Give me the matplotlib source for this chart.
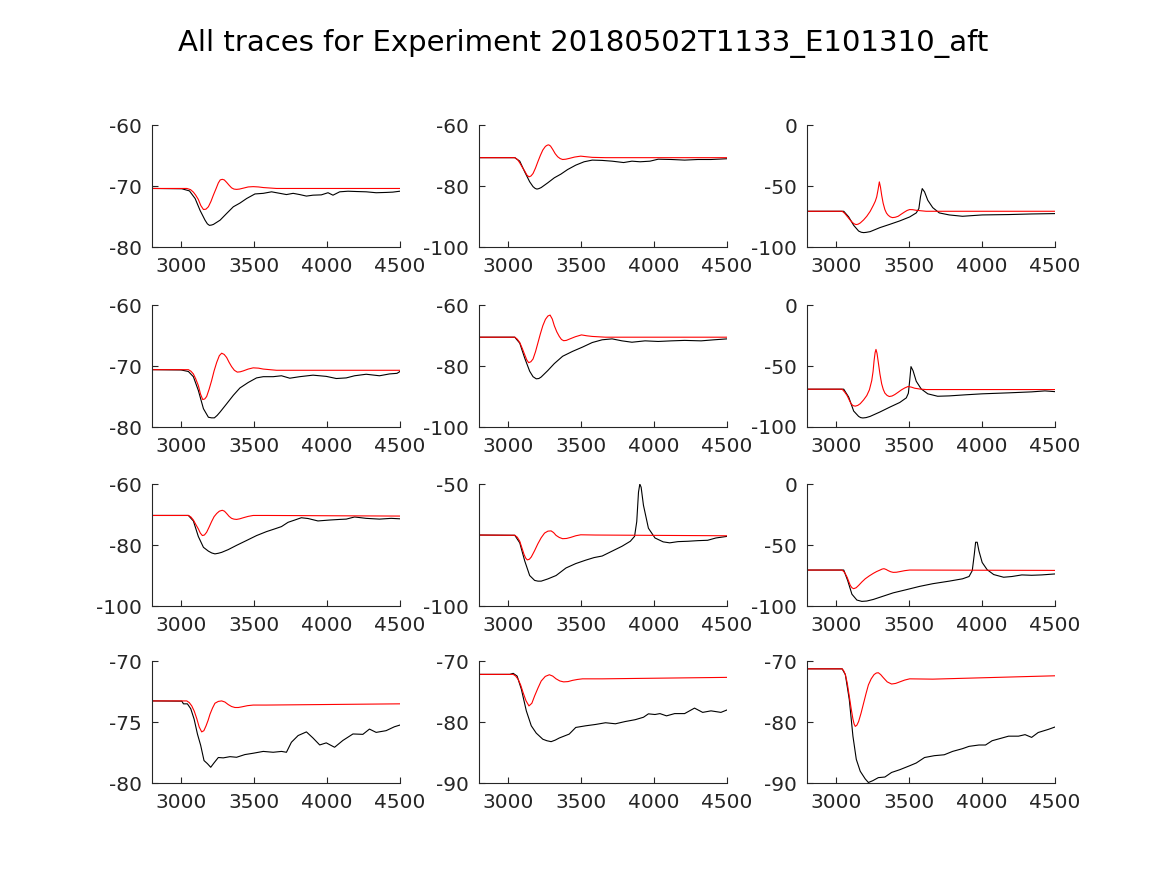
import matplotlib
matplotlib.use("Agg")
import matplotlib.pyplot as plt

# Values; each trace is (time, voltage) points
p1_red_x = [2800, 3040, 3065, 3084, 3100, 3118, 3135, 3153, 3170, 3187, 3205, 3221, 3240, 3255, 3268, 3282, 3296,
            3312, 3330, 3346, 3362, 3380, 3400, 3426, 3460, 3494, 3530, 3563, 3654, 4500]
p1_red_y = [-70.4, -70.4, -70.6, -71.0, -71.5, -72.2, -73.2, -73.85, -73.8, -73.4, -72.5, -71.5, -70.4, -69.5,
            -69.0, -68.9, -69.0, -69.4, -69.9, -70.3, -70.5, -70.55, -70.5, -70.35, -70.15, -70.1, -70.15, -70.25,
            -70.4, -70.4]
p1_blk_x = [2800, 3005, 3057, 3096, 3130, 3164, 3180, 3194, 3208, 3221, 3267, 3312, 3358, 3403, 3449, 3506, 3563,
            3620, 3677, 3722, 3768, 3813, 3859, 3904, 3961, 4007, 4041, 4087, 4144, 4201, 4269, 4337, 4406, 4451,
            4500]
p1_blk_y = [-70.4, -70.45, -70.8, -72.05, -74.0, -75.6, -76.2, -76.45, -76.4, -76.3, -75.6, -74.5, -73.4, -72.8,
            -72.05, -71.3, -71.2, -70.95, -71.2, -71.4, -71.2, -71.4, -71.65, -71.5, -71.45, -71.1, -71.5, -70.95,
            -70.85, -70.9, -70.95, -71.1, -71.05, -71.0, -70.85]

p2_red_x = [2800, 3045, 3065, 3079, 3096, 3113, 3128, 3142, 3156, 3170, 3187, 3203, 3220, 3237, 3255, 3268, 3278,
            3290, 3305, 3322, 3339, 3356, 3373, 3395, 3418, 3455, 3497, 3535, 3576, 3667, 4500]
p2_red_y = [-70.7, -70.7, -71.4, -72.4, -73.8, -75.1, -76.4, -77.0, -76.7, -75.9, -74.1, -72.05, -70.0, -68.2,
            -67.0, -66.6, -66.5, -66.9, -68.0, -69.4, -70.4, -71.0, -71.3, -71.2, -70.95, -70.5, -70.2, -70.4,
            -70.6, -70.7, -70.7]
p2_blk_x = [2800, 3045, 3079, 3113, 3147, 3170, 3185, 3197, 3210, 3226, 3271, 3316, 3361, 3407, 3463, 3520, 3576,
            3644, 3712, 3791, 3848, 3904, 3972, 4028, 4119, 4209, 4300, 4390, 4500]
p2_blk_y = [-70.7, -70.7, -71.85, -75.35, -78.6, -80.2, -80.8, -81.0, -80.85, -80.5, -78.95, -77.3, -76.1, -74.6,
            -73.15, -72.05, -71.5, -71.6, -71.85, -72.3, -71.85, -72.05, -71.85, -71.2, -71.3, -71.5, -71.3, -71.3,
            -71.05]

p3_red_x = [2800, 3041, 3058, 3075, 3092, 3108, 3122, 3136, 3150, 3165, 3188, 3210, 3233, 3255, 3268, 3278, 3288,
            3296, 3304, 3312, 3322, 3334, 3345, 3357, 3371, 3386, 3405, 3425, 3447, 3470, 3487, 3504, 3525, 3549,
            3617, 4500]
p3_red_y = [-70.7, -70.7, -72.3, -74.8, -77.3, -79.45, -80.9, -81.6, -81.3, -80.3, -77.8, -74.8, -70.8, -65.8,
            -62.5, -58.9, -52.5, -46.6, -51.0, -57.5, -64.0, -69.3, -72.2, -74.0, -75.3, -75.9, -75.6, -74.8, -73.0,
            -71.2, -70.0, -69.3, -69.4, -69.9, -70.7, -70.7]
p3_blk_x = [2800, 3052, 3086, 3120, 3154, 3172, 3188, 3205, 3233, 3300, 3368, 3436, 3504, 3549, 3567, 3578, 3590,
            3606, 3628, 3662, 3707, 3775, 3866, 4001, 4182, 4340, 4500]
p3_blk_y = [-70.7, -70.7, -75.35, -82.2, -86.9, -87.9, -88.2, -88.0, -87.4, -84.1, -81.4, -78.6, -75.35, -72.05,
            -68.5, -58.9, -52.1, -54.8, -61.65, -67.7, -72.05, -73.7, -74.8, -73.7, -73.4, -72.9, -72.6]

p4_red_x = [2800, 3050, 3067, 3084, 3100, 3118, 3133, 3148, 3162, 3175, 3192, 3209, 3226, 3244, 3262, 3278, 3295,
            3312, 3329, 3346, 3365, 3385, 3405, 3426, 3460, 3494, 3530, 3563, 3654, 4500]
p4_red_y = [-70.6, -70.6, -70.85, -71.3, -72.1, -73.2, -74.6, -75.5, -75.4, -75.0, -73.8, -72.4, -70.8, -69.4,
            -68.3, -67.9, -68.1, -68.6, -69.4, -70.1, -70.7, -71.0, -70.95, -70.8, -70.5, -70.3, -70.35, -70.5,
            -70.7, -70.7]
p4_blk_x = [2800, 3000, 3050, 3084, 3118, 3153, 3187, 3208, 3228, 3247, 3267, 3312, 3358, 3403, 3460, 3517, 3563,
            3631, 3688, 3745, 3813, 3904, 3995, 4064, 4132, 4189, 4269, 4360, 4428, 4480, 4500]
p4_blk_y = [-70.6, -70.65, -70.9, -71.75, -74.0, -77.0, -78.4, -78.5, -78.5, -78.1, -77.55, -76.2, -74.8, -73.6,
            -72.7, -71.95, -71.75, -71.75, -71.6, -72.0, -71.75, -71.5, -71.7, -72.05, -71.95, -71.6, -71.35, -71.6,
            -71.3, -71.2, -70.9]

p5_red_x = [2800, 3045, 3062, 3079, 3096, 3113, 3127, 3140, 3155, 3170, 3187, 3203, 3220, 3237, 3255, 3272, 3287,
            3302, 3316, 3333, 3350, 3365, 3380, 3398, 3418, 3460, 3502, 3540, 3576, 3667, 4500]
p5_red_y = [-70.55, -70.55, -71.2, -72.3, -74.2, -76.3, -78.0, -78.9, -78.6, -77.7, -75.3, -72.5, -69.5, -66.8,
            -64.7, -63.6, -63.3, -64.6, -66.8, -68.8, -70.3, -71.3, -71.7, -71.6, -71.2, -70.4, -69.8, -70.1, -70.3,
            -70.55, -70.55]
p5_blk_x = [2800, 3045, 3079, 3113, 3147, 3170, 3192, 3210, 3226, 3271, 3316, 3373, 3441, 3509, 3576, 3644, 3712,
            3780, 3848, 3938, 4028, 4119, 4209, 4322, 4412, 4500]
p5_blk_y = [-70.55, -70.55, -72.5, -77.4, -81.7, -83.5, -84.2, -84.1, -83.6, -81.5, -79.2, -76.8, -75.2, -73.8,
            -72.3, -71.4, -71.1, -71.75, -72.2, -71.75, -71.95, -71.75, -71.6, -71.75, -71.4, -71.1]

p6_red_x = [2800, 3041, 3058, 3075, 3089, 3102, 3116, 3131, 3148, 3165, 3188, 3210, 3228, 3244, 3253, 3260, 3267,
            3273, 3280, 3289, 3300, 3312, 3323, 3334, 3349, 3364, 3383, 3402, 3425, 3447, 3470, 3493, 3515, 3538,
            3575, 3617, 4500]
p6_red_y = [-69.0, -69.0, -71.3, -74.2, -77.7, -80.9, -82.5, -82.9, -82.3, -80.9, -77.8, -74.2, -69.5, -61.9,
            -54.5, -45.6, -39.0, -36.4, -39.5, -47.0, -56.5, -64.6, -69.2, -72.2, -74.1, -75.0, -74.6, -73.4, -71.5,
            -69.6, -68.0, -66.8, -67.3, -68.2, -68.9, -69.3, -69.3]
p6_blk_x = [2800, 3052, 3086, 3120, 3154, 3168, 3183, 3205, 3233, 3300, 3368, 3436, 3481, 3495, 3504, 3513, 3527,
            3549, 3583, 3628, 3696, 3775, 3888, 4001, 4182, 4340, 4431, 4500]
p6_blk_y = [-69.0, -69.0, -75.5, -86.9, -91.3, -92.3, -92.6, -92.3, -91.3, -87.7, -83.7, -79.9, -76.1, -72.3,
            -62.0, -50.5, -53.8, -62.5, -68.8, -72.8, -74.8, -74.5, -73.6, -72.8, -72.0, -71.2, -70.4, -71.0]

p7_red_x = [2800, 3050, 3067, 3084, 3100, 3118, 3132, 3146, 3160, 3175, 3192, 3209, 3226, 3244, 3262, 3282, 3297,
            3312, 3329, 3346, 3362, 3380, 3402, 3426, 3460, 3494, 3585, 4500]
p7_red_y = [-70.3, -70.3, -70.8, -71.8, -73.2, -74.7, -76.1, -76.9, -76.7, -75.8, -74.1, -72.3, -70.7, -69.65,
            -68.9, -68.6, -68.9, -69.65, -70.6, -71.25, -71.5, -71.6, -71.4, -71.05, -70.6, -70.3, -70.3, -70.5]
p7_blk_x = [2800, 3050, 3084, 3118, 3153, 3187, 3210, 3232, 3255, 3278, 3323, 3380, 3449, 3517, 3585, 3642, 3688,
            3733, 3779, 3824, 3870, 3938, 4018, 4087, 4132, 4189, 4269, 4360, 4440, 4500]
p7_blk_y = [-70.3, -70.3, -72.1, -77.2, -80.75, -82.0, -82.6, -82.9, -82.7, -82.4, -81.5, -80.1, -78.5, -76.9,
            -75.6, -74.7, -73.95, -72.55, -71.8, -71.05, -71.3, -72.1, -71.8, -71.6, -71.5, -70.8, -71.25, -71.5,
            -71.25, -71.4]

p8_red_x = [2800, 3045, 3062, 3079, 3094, 3108, 3120, 3131, 3145, 3158, 3180, 3203, 3226, 3249, 3272, 3294, 3311,
            3328, 3350, 3373, 3400, 3429, 3463, 3497, 3599, 4500]
p8_red_y = [-70.9, -71.0, -71.8, -73.45, -76.2, -78.8, -80.4, -81.1, -80.8, -79.9, -77.4, -74.5, -72.0, -70.1,
            -69.3, -69.2, -69.9, -71.05, -71.9, -72.4, -72.3, -71.85, -71.2, -70.8, -70.9, -71.2]
p8_blk_x = [2800, 3045, 3079, 3113, 3147, 3181, 3204, 3226, 3271, 3328, 3396, 3463, 3531, 3588, 3644, 3712, 3780,
            3837, 3866, 3881, 3893, 3902, 3911, 3927, 3961, 4006, 4062, 4107, 4164, 4232, 4300, 4367, 4424, 4500]
p8_blk_y = [-70.9, -71.0, -74.1, -81.5, -87.5, -89.5, -89.8, -89.8, -88.9, -87.5, -84.4, -82.6, -81.2, -80.15,
            -79.5, -77.5, -75.5, -73.45, -71.45, -65.4, -53.35, -50.0, -51.3, -58.7, -68.1, -72.1, -73.7, -74.1,
            -73.6, -73.45, -73.2, -73.05, -72.1, -71.45]

p9_red_x = [2800, 3041, 3058, 3075, 3086, 3097, 3108, 3120, 3137, 3154, 3176, 3199, 3227, 3255, 3278, 3301, 3315,
            3328, 3342, 3357, 3374, 3391, 3413, 3436, 3470, 3504, 4500]
p9_red_y = [-70.5, -70.5, -72.5, -76.4, -79.8, -83.1, -85.0, -85.8, -85.0, -83.1, -80.3, -77.7, -75.3, -73.2,
            -71.7, -70.5, -69.7, -69.4, -70.0, -71.0, -71.9, -72.4, -72.3, -71.8, -71.0, -70.5, -70.8]
p9_blk_x = [2800, 3052, 3079, 3108, 3142, 3176, 3210, 3255, 3323, 3391, 3481, 3572, 3662, 3775, 3866, 3911, 3933,
            3947, 3956, 3967, 3979, 4001, 4035, 4080, 4148, 4205, 4273, 4340, 4408, 4500]
p9_blk_y = [-70.5, -70.5, -79.1, -90.3, -95.1, -96.2, -95.9, -94.6, -91.9, -89.2, -86.6, -83.9, -81.7, -79.6,
            -77.7, -75.8, -71.0, -57.6, -47.7, -47.7, -54.9, -64.3, -70.2, -74.2, -76.4, -75.8, -74.5, -74.8, -74.5,
            -73.7]

p10_red_x = [2800, 3039, 3056, 3073, 3090, 3107, 3124, 3141, 3156, 3171, 3185, 3198, 3215, 3232, 3255, 3278, 3300,
             3323, 3346, 3369, 3392, 3415, 3455, 3494, 3585, 4500]
p10_red_y = [-73.26, -73.26, -73.4, -73.67, -74.1, -74.7, -75.4, -75.8, -75.7, -75.3, -74.85, -74.35, -73.85,
             -73.45, -73.3, -73.26, -73.35, -73.56, -73.72, -73.8, -73.8, -73.75, -73.65, -73.6, -73.6, -73.5]
p10_blk_x = [2800, 3005, 3016, 3043, 3066, 3089, 3112, 3134, 3157, 3180, 3203, 3225, 3255, 3289, 3335, 3380, 3437,
             3494, 3563, 3631, 3688, 3722, 3756, 3802, 3859, 3904, 3950, 3995, 4052, 4109, 4178, 4246, 4291, 4337,
             4405, 4462, 4500]
p10_blk_y = [-73.26, -73.28, -73.5, -73.5, -73.9, -74.75, -75.98, -76.9, -78.15, -78.4, -78.7, -78.35, -77.9,
             -77.93, -77.83, -77.88, -77.66, -77.55, -77.4, -77.47, -77.4, -77.47, -76.65, -76.1, -75.8, -76.3,
             -76.87, -76.7, -77.06, -76.5, -75.97, -76.0, -75.57, -75.84, -75.7, -75.38, -75.24]

p11_red_x = [2800, 3034, 3051, 3068, 3085, 3102, 3122, 3142, 3162, 3181, 3204, 3226, 3254, 3282, 3305, 3328, 3354,
             3380, 3410, 3441, 3475, 3509, 3644, 4500]
p11_red_y = [-72.17, -72.17, -72.45, -72.99, -73.9, -75.16, -76.5, -77.34, -76.9, -75.7, -74.4, -73.26, -72.5,
             -72.23, -72.45, -72.9, -73.25, -73.4, -73.35, -73.15, -73.0, -72.9, -72.9, -72.66]
p11_blk_x = [2800, 3011, 3034, 3061, 3090, 3124, 3158, 3192, 3237, 3265, 3294, 3322, 3350, 3418, 3463, 3531, 3599,
             3667, 3735, 3802, 3870, 3927, 3961, 4006, 4040, 4085, 4141, 4209, 4277, 4333, 4390, 4458, 4500]
p11_blk_y = [-72.17, -72.17, -72.0, -72.45, -74.6, -78.15, -80.6, -81.8, -82.8, -83.05, -83.2, -82.95, -82.6,
             -81.96, -80.87, -80.6, -80.38, -80.1, -80.27, -79.9, -79.6, -79.2, -78.64, -78.75, -78.6, -78.97, -78.6,
             -78.6, -77.7, -78.4, -78.15, -78.4, -78.0]

p12_red_x = [2800, 3041, 3052, 3063, 3076, 3090, 3103, 3115, 3123, 3131, 3142, 3154, 3171, 3188, 3205, 3221, 3240,
             3260, 3275, 3289, 3305, 3323, 3350, 3380, 3408, 3436, 3470, 3504, 3662, 4500]
p12_red_y = [-71.26, -71.26, -71.6, -72.2, -73.6, -75.75, -77.8, -79.5, -80.3, -80.7, -80.5, -79.9, -78.5, -76.9,
             -75.3, -73.9, -72.9, -72.2, -71.95, -71.9, -72.2, -72.7, -73.4, -73.75, -73.65, -73.4, -73.1, -72.9,
             -72.95, -72.4]
p12_blk_x = [2800, 3041, 3063, 3090, 3115, 3138, 3165, 3199, 3221, 3251, 3289, 3334, 3380, 3436, 3504, 3549, 3606,
             3673, 3741, 3798, 3866, 3911, 3979, 4024, 4069, 4137, 4182, 4250, 4295, 4340, 4385, 4453, 4500]
p12_blk_y = [-71.26, -71.26, -72.2, -76.3, -82.3, -86.1, -88.05, -89.3, -89.9, -89.6, -89.1, -89.0, -88.25, -87.8,
             -87.15, -86.7, -85.8, -85.5, -85.35, -84.8, -84.35, -83.97, -83.75, -83.75, -83.05, -82.6, -82.3,
             -82.3, -82.05, -82.5, -81.7, -81.2, -80.8]

y_limits = [(-80, -60), (-100, -60), (-100, 0),
            (-80, -60), (-100, -60), (-100, 0),
            (-100, -60), (-100, -50), (-100, 0),
            (-80, -70), (-90, -70), (-90, -70)]
y_ticks = [[-80, -70, -60], [-100, -80, -60], [-100, -50, 0],
           [-80, -70, -60], [-100, -80, -60], [-100, -50, 0],
           [-100, -80, -60], [-100, -50], [-100, -50, 0],
           [-80, -75, -70], [-90, -80, -70], [-90, -80, -70]]
x_ticks = [3000, 3500, 4000, 4500]

red_traces = [(p1_red_x, p1_red_y), (p2_red_x, p2_red_y), (p3_red_x, p3_red_y),
              (p4_red_x, p4_red_y), (p5_red_x, p5_red_y), (p6_red_x, p6_red_y),
              (p7_red_x, p7_red_y), (p8_red_x, p8_red_y), (p9_red_x, p9_red_y),
              (p10_red_x, p10_red_y), (p11_red_x, p11_red_y), (p12_red_x, p12_red_y)]
black_traces = [(p1_blk_x, p1_blk_y), (p2_blk_x, p2_blk_y), (p3_blk_x, p3_blk_y),
                (p4_blk_x, p4_blk_y), (p5_blk_x, p5_blk_y), (p6_blk_x, p6_blk_y),
                (p7_blk_x, p7_blk_y), (p8_blk_x, p8_blk_y), (p9_blk_x, p9_blk_y),
                (p10_blk_x, p10_blk_y), (p11_blk_x, p11_blk_y), (p12_blk_x, p12_blk_y)]

plt.rcParams['font.family'] = 'DejaVu Sans'
plt.rcParams['axes.unicode_minus'] = False
fig = plt.figure(figsize=(11.67, 8.75), dpi=100)

# axes placement similar to matlab subplot(4,3,k)
lefts = [0.1302, 0.4105, 0.6915]
bottoms = [0.7177, 0.512, 0.3074, 0.105]
w, h = 0.2125, 0.1394
grey = '#262626'

for k in range(12):
    r, c = divmod(k, 3)
    ax = fig.add_axes([lefts[c], bottoms[r], w, h])
    bx, by = black_traces[k]
    rx, ry = red_traces[k]
    ax.plot(bx, by, color='black', lw=0.8)
    ax.plot(rx, ry, color='red', lw=0.8)
    ax.set_xlim(2800, 4500)
    ax.set_ylim(*y_limits[k])
    ax.set_xticks(x_ticks)
    ax.set_yticks(y_ticks[k])
    ax.spines['top'].set_visible(False)
    ax.spines['right'].set_visible(False)
    for s in ('left', 'bottom'):
        ax.spines[s].set_color(grey)
        ax.spines[s].set_linewidth(0.8)
    ax.tick_params(direction='in', length=4, width=0.8, colors=grey,
                   labelsize=14.5, labelcolor=grey, pad=7)

fig.suptitle('All traces for Experiment 20180502T1133_E101310_aft', fontsize=21,
             y=0.95, va='center', color='black')

plt.savefig('out.png', dpi=100)
